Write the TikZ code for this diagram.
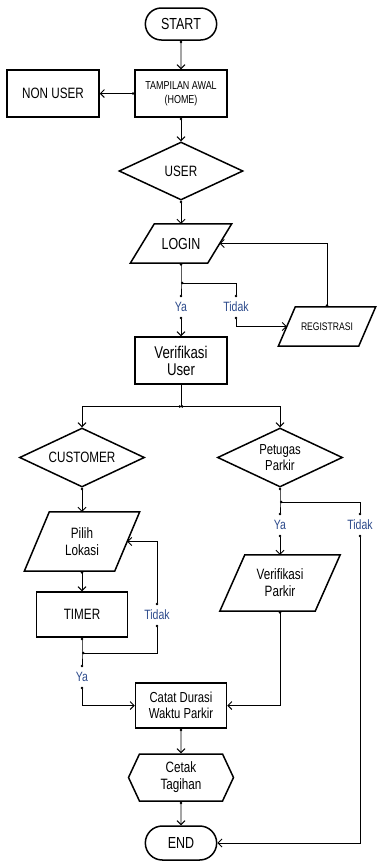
\documentclass[tikz,border=0pt]{standalone}
\usepackage{fontspec}
\setmainfont{Liberation Sans}[FakeStretch=0.78]
\usetikzlibrary{shapes.geometric,shapes.misc,shapes.symbols,arrows.meta}

\definecolor{answerblue}{RGB}{45,75,140}

\tikzset{
  terminal/.style={draw, rounded rectangle, line width=1.5pt, minimum width=78pt,
    minimum height=32pt, font=\fontsize{16}{18}\selectfont},
  process/.style={draw, rectangle, line width=1.5pt, minimum width=92pt,
    minimum height=47pt, align=center, font=\fontsize{15}{17}\selectfont},
  decision/.style={draw, diamond, aspect=2.1, inner sep=1pt, line width=1.5pt,
    minimum width=125pt, minimum height=59pt, align=center,
    font=\fontsize{15}{17}\selectfont},
  io/.style={rectangle, inner sep=1pt, align=center, font=\fontsize{15}{17}\selectfont},
  display/.style={draw, signal, signal to=west and east, signal pointer angle=130,
    line width=1.5pt, minimum width=105pt, minimum height=47pt, align=center,
    font=\fontsize{15}{17}\selectfont},
  answer/.style={text=answerblue, inner sep=1pt, minimum height=19pt,
    font=\fontsize{13.5}{15}\selectfont},
  flowline/.style={line width=0.9pt, {Circle[length=2.4pt]}-{Straight Barb[length=4pt,width=8pt]}},
  joinline/.style={line width=0.9pt, {Circle[length=2.4pt]}-{Circle[length=2.4pt]}}
}

\begin{document}
\begin{tikzpicture}[x=1pt,y=-1pt]
\useasboundingbox (0,0) rectangle (377,863);

% main column
\node[terminal] (start) at (181,24) {START};
\node[process, font=\fontsize{11.5}{14}\selectfont] (home) at (181,93.5) {TAMPILAN AWAL\\(HOME)};
\node[process] (nonuser) at (53,93.5) {NON USER};
\node[decision, minimum width=124pt, minimum height=58pt] (user) at (181,171) {USER};
\node[io, minimum width=77pt, minimum height=39pt, font=\fontsize{16}{18}\selectfont] (login) at (181,243.5) {LOGIN};
\coordinate (j1) at (181,283);
\node[answer] (ya1) at (181,307) {Ya};
\node[answer] (tidak1) at (236,307) {Tidak};
\node[io, minimum width=80pt, minimum height=39pt, font=\fontsize{11}{13}\selectfont] (registrasi) at (327,326.5) {REGISTRASI};
\node[process, font=\fontsize{17}{17}\selectfont] (veruser) at (181,360.5) {Verifikasi\\User};
\coordinate (j2) at (181,406.5);

% customer branch
\node[decision] (customer) at (82,457.5) {CUSTOMER};
\node[io, minimum width=90pt, minimum height=59pt] (pilih) at (82,541.5) {Pilih\\Lokasi};
\node[process, minimum width=91pt, minimum height=45pt] (timer) at (82,614.5) {TIMER};
\node[answer] (tidak2) at (157,615) {Tidak};
\coordinate (j3) at (82,653);
\node[answer] (ya2) at (82,677) {Ya};

% petugas branch
\node[decision, font=\fontsize{14.5}{16}\selectfont] (petugas) at (280,457.5) {Petugas\\Parkir};
\coordinate (j4) at (280,502);
\node[answer] (ya3) at (280,525) {Ya};
\node[answer] (tidak3) at (360,525) {Tidak};
\node[io, minimum width=95pt, minimum height=56pt] (verparkir) at (280,583) {Verifikasi\\Parkir};

% end
\node[process, minimum width=91pt, minimum height=45pt, font=\fontsize{14.5}{16}\selectfont] (catat) at (181,705.5) {Catat Durasi\\Waktu Parkir};
\node[display] (cetak) at (181,777.5) {Cetak\\Tagihan};
\node[terminal, minimum height=34pt] (end) at (181,843) {END};

% parallelogram outlines
\foreach \n/\s in {login/12, registrasi/8.5, pilih/12.5, verparkir/12.5}
  \draw[line width=1.5pt] ([xshift=\s pt]\n.north west) -- ([xshift=\s pt]\n.north east)
    -- ([xshift=-\s pt]\n.south east) -- ([xshift=-\s pt]\n.south west) -- cycle;

\draw[flowline] (start) -- (home);
\draw[flowline] (home) -- (nonuser);
\draw[flowline] (home) -- (user);
\draw[flowline] (user) -- (login);
\draw[joinline] (login) -- (j1) -- (ya1);
\draw[flowline] (ya1) -- (veruser);
\draw[joinline] (j1) -| (tidak1);
\draw[flowline] (tidak1) |- (registrasi);
\draw[flowline] (registrasi) |- (login);

\draw[line width=0.9pt] (veruser) -- (j2);
\draw[flowline] (j2) -| (customer);
\draw[flowline] (j2) -| (petugas);

\draw[flowline] (customer) -- (pilih);
\draw[flowline] (pilih) -- (timer);
\draw[joinline] (timer) -- (j3) -- (ya2);
\draw[joinline] (j3) -| (tidak2);
\draw[flowline] (tidak2) |- (pilih);
\draw[flowline] (ya2) |- (catat);

\draw[joinline] (petugas) -- (j4) -- (ya3);
\draw[flowline] (ya3) -- (verparkir);
\draw[joinline] (j4) -| (tidak3);
\draw[flowline] (tidak3) |- (end);
\draw[flowline] (verparkir) |- (catat);

\draw[flowline] (catat) -- (cetak);
\draw[flowline] (cetak) -- (end);
\end{tikzpicture}
\end{document}
